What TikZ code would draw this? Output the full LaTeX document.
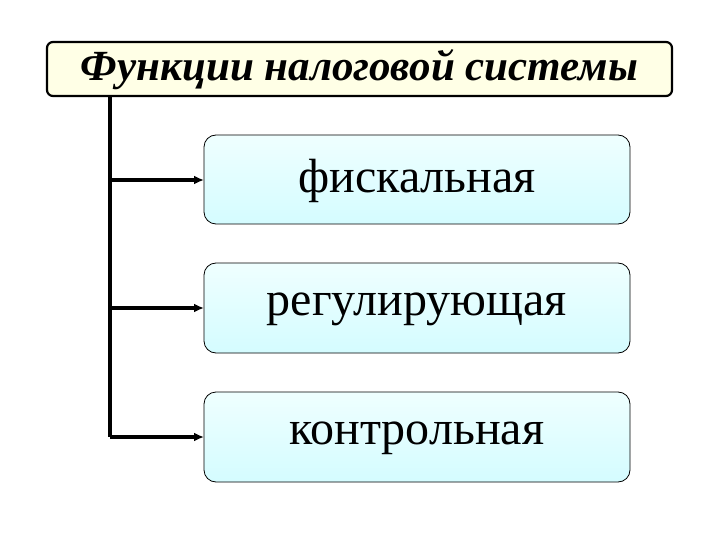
\documentclass[tikz,border=0pt]{standalone}
\usepackage{fontspec}
\setmainfont{Liberation Serif}
\usetikzlibrary{arrows.meta}
\definecolor{titlefill}{HTML}{FFFFE6}
\definecolor{boxtop}{HTML}{EFFFFF}
\definecolor{boxbot}{HTML}{D4FCFF}
\tikzset{
  titlebox/.style={draw=black, line width=2.2pt, rounded corners=6pt, fill=titlefill},
  funcbox/.style={draw=black, line width=0.8pt, rounded corners=12pt, top color=boxtop, bottom color=boxbot},
  conn/.style={line width=3.4pt, -{Latex[length=10pt,width=9pt]}},
}
\begin{document}
\begin{tikzpicture}[x=1pt,y=-1pt]
\useasboundingbox (0,0) rectangle (720,540);
\draw[titlebox] (47,42) rectangle (672,96);
\node (title) at (359.5,70) {\fontsize{43}{48}\selectfont\bfseries\itshape Функции налоговой системы};
\draw[funcbox] (204,135) rectangle (630,224);
\node (b1) at (417,181) {\fontsize{48}{54}\selectfont фискальная};
\draw[funcbox] (204,263) rectangle (630,353);
\node (b2) at (417,309) {\fontsize{48}{54}\selectfont регулирующая};
\draw[funcbox] (204,392) rectangle (630,482);
\node (b3) at (417,438) {\fontsize{48}{54}\selectfont контрольная};
\coordinate (top) at (110,97);
\coordinate (j1) at (110,180);
\coordinate (j2) at (110,308);
\coordinate (j3) at (110,437);
\coordinate (e1) at (204,180);
\coordinate (e2) at (204,308);
\coordinate (e3) at (204,437);
\draw[line width=3.4pt] (top) -- (j3);
\draw[conn] (j1) -- (e1);
\draw[conn] (j2) -- (e2);
\draw[conn] (j3) -- (e3);
\end{tikzpicture}
\end{document}
